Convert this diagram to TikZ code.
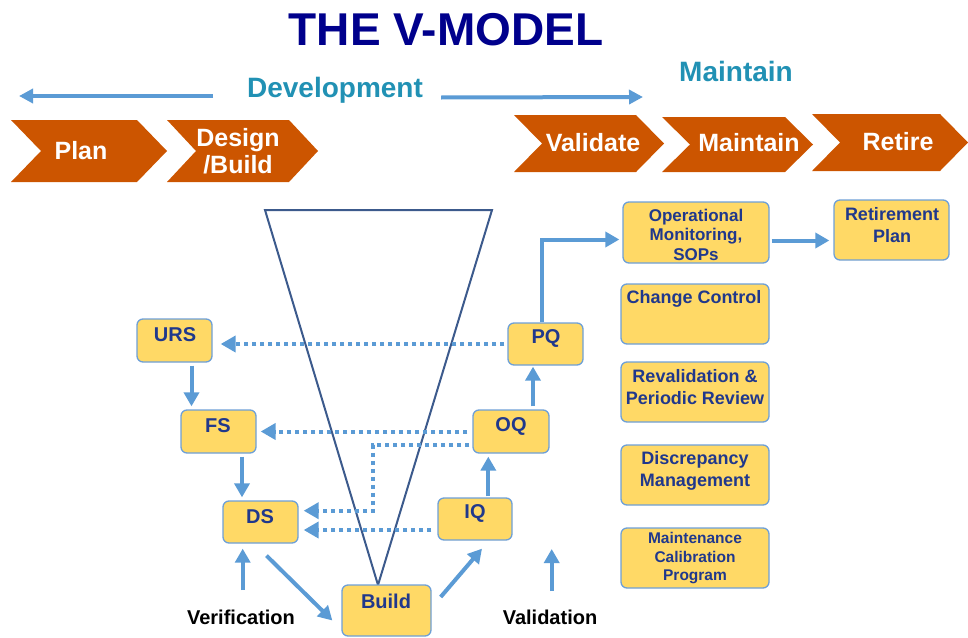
\documentclass[tikz,border=0pt]{standalone}
\usepackage{fontspec}
\setmainfont{Liberation Sans}
\usetikzlibrary{arrows.meta,calc}
\definecolor{titleblue}{RGB}{0,0,140}
\definecolor{teal}{RGB}{33,145,180}
\definecolor{chevor}{RGB}{204,85,0}
\definecolor{arrowblue}{RGB}{91,155,213}
\definecolor{boxfill}{RGB}{255,217,102}
\definecolor{boxline}{RGB}{110,160,215}
\definecolor{boxtext}{RGB}{32,56,140}
\definecolor{vline}{RGB}{60,90,140}
\begin{document}
\begin{tikzpicture}[x=1pt,y=-1pt,
  box/.style={draw=boxline, line width=1.3pt, fill=boxfill, rounded corners=6pt, inner sep=0pt},
  btxt/.style={text=boxtext, font=\bfseries\fontsize{20}{23}\selectfont, align=center, inner sep=0pt},
  rtxt/.style={text=boxtext, font=\bfseries\fontsize{18}{22}\selectfont, align=center, inner sep=0pt},
  arr/.style={draw=arrowblue, line width=4pt, -{Triangle[length=14pt,width=15pt]}},
  darr/.style={draw=arrowblue, line width=4pt, dash pattern=on 4pt off 4pt, -{Triangle[length=15pt,width=16pt]}},
  tarr/.style={draw=arrowblue, line width=4pt, -{Triangle[length=14pt,width=14pt]}},
  chev/.style={fill=chevor},
  ctxt/.style={text=white, font=\bfseries\fontsize{25}{27}\selectfont, align=center, inner sep=0pt},
  vtri/.style={draw=vline, line width=2pt, line join=miter},
  ltxt/.style={text=black, font=\bfseries\fontsize{20}{24}\selectfont, inner sep=0pt}
]
\useasboundingbox (0,0) rectangle (968,637);

% title
\node[text=titleblue, font=\bfseries\fontsize{46}{50}\selectfont, inner sep=0pt] (title) at (446,30) {THE V-MODEL};

% development / maintain headers
\node[text=teal, font=\bfseries\fontsize{28}{32}\selectfont, inner sep=0pt] (dev) at (335,90) {Development};
\node[text=teal, font=\bfseries\fontsize{28}{32}\selectfont, inner sep=0pt] (mainthdr) at (736,71) {Maintain};
\coordinate (dl0) at (213,96);
\coordinate (dl1) at (19,96);
\coordinate (dr0) at (441,97.5);
\coordinate (dr1) at (643,97);
\draw[tarr] (dl0) -- (dl1);
\draw[tarr] (dr0) -- (dr1);

% chevrons
\fill[chev] (11,120) -- (137,120) -- (167,151) -- (137,182) -- (11,182) -- (41,151) -- cycle;
\fill[chev] (167,120) -- (289,120) -- (318,151) -- (289,182) -- (167,182) -- (196,151) -- cycle;
\fill[chev] (514,115) -- (636,115) -- (664,143.5) -- (636,172) -- (514,172) -- (542,143.5) -- cycle;
\fill[chev] (662,117) -- (785,117) -- (813,144.5) -- (785,172) -- (662,172) -- (690,144.5) -- cycle;
\fill[chev] (812,114) -- (940,114) -- (968,142.5) -- (940,171) -- (812,171) -- (840,142.5) -- cycle;
\node[ctxt] (cplan) at (81,151) {Plan};
\node[ctxt] (cdesign) at (238,151) {Design\\/Build};
\node[ctxt] (cval) at (593,143) {Validate};
\node[ctxt] (cmaint) at (749,143) {Maintain};
\node[ctxt] (cret) at (898,142) {Retire};

% V triangle
\coordinate (vl) at (265,210);
\coordinate (vr) at (492,210);
\coordinate (vb) at (378,585);
\draw[vtri] (vl) -- (vr) -- (vb) -- cycle;

% boxes
\node[box, minimum width=75pt, minimum height=43pt] (URS) at (174.5,340.5) {};
\node[box, minimum width=75pt, minimum height=43pt] (FS) at (218.5,431.5) {};
\node[box, minimum width=75pt, minimum height=42pt] (DS) at (260.5,522) {};
\node[box, minimum width=89pt, minimum height=51pt] (Build) at (386.5,610.5) {};
\node[box, minimum width=74pt, minimum height=42pt] (IQ) at (475,519) {};
\node[box, minimum width=76pt, minimum height=43pt] (OQ) at (511,431.5) {};
\node[box, minimum width=75pt, minimum height=42pt] (PQ) at (545.5,344) {};
\node[box, minimum width=146pt, minimum height=61pt] (OpMon) at (696,232.5) {};
\node[box, minimum width=115pt, minimum height=60pt] (Ret) at (891.5,230) {};
\node[box, minimum width=148pt, minimum height=60pt] (CC) at (695,314) {};
\node[box, minimum width=148pt, minimum height=60pt] (Reval) at (695,392) {};
\node[box, minimum width=148pt, minimum height=60pt] (Disc) at (695,475) {};
\node[box, minimum width=148pt, minimum height=60pt] (Maint) at (695,558) {};

% box texts
\node[btxt] (tURS) at (175,335) {URS};
\node[btxt] (tFS) at (218,426) {FS};
\node[btxt] (tDS) at (260,517) {DS};
\node[btxt] (tBuild) at (386,601) {Build};
\node[btxt] (tIQ) at (475,513) {IQ};
\node[btxt] (tOQ) at (511,426) {OQ};
\node[btxt] (tPQ) at (546,338) {PQ};
\node[text=boxtext, font=\bfseries\fontsize{17}{19.5}\selectfont, align=center, inner sep=0pt] (tOpMon) at (696,234.5) {Operational\\Monitoring,\\SOPs};
\node[rtxt] (tRet) at (892,225) {Retirement\\Plan};
\node[rtxt] (tCC) at (694,299) {Change Control};
\node[rtxt] (tReval) at (695,387) {Revalidation \&\\Periodic Review};
\node[rtxt] (tDisc) at (695,471) {Discrepancy\\Management};
\node[text=boxtext, font=\bfseries\fontsize{15.5}{18.5}\selectfont, align=center, inner sep=0pt] (tMaint) at (695,558.5) {Maintenance\\Calibration\\Program};

% bottom labels
\node[ltxt] (verif) at (241,617) {Verification};
\node[ltxt] (valid) at (550,617) {Validation};

% solid connectors
\draw[arr, shorten <=3pt, shorten >=3pt] ([xshift=17pt]URS.south) -- ([xshift=17pt]URS.south |- FS.north);
\draw[arr, shorten <=3pt, shorten >=3pt] ([xshift=23.5pt]FS.south) -- ([xshift=23.5pt]FS.south |- DS.north);
\coordinate (vfoot) at (242.7,590);
\draw[arr, shorten >=5pt] (vfoot) -- (vfoot |- DS.south);
\draw[arr] ($(DS.south)+(6,12)$) -- ($(Build.west)+(-9,10)$);
\draw[arr] ($(Build.east)+(9,-13.5)$) -- ($(IQ.south)+(7,8)$);
\draw[arr, shorten <=1pt, shorten >=3pt] ([xshift=13.3pt]IQ.north) -- ([xshift=13.3pt]IQ.north |- OQ.south);
\draw[arr, shorten <=3pt, shorten >=1pt] ([xshift=22pt]OQ.north) -- ([xshift=22pt]OQ.north |- PQ.south);
\coordinate (opin) at ($(OpMon.west)+(0,7)$);
\draw[arr, shorten >=3pt] ([xshift=-3.5pt]PQ.north) |- (opin);
\coordinate (opout) at ($(OpMon.east)+(2,8)$);
\draw[arr, shorten >=4pt] (opout) -- (opout -| Ret.west);
\coordinate (vafoot) at (551.7,591);
\coordinate (vatop) at (551.7,549);
\draw[arr] (vafoot) -- (vatop);

% dotted connectors
\draw[darr, shorten <=3pt, shorten >=8pt] (PQ.west) -- (PQ.west -| URS.east);
\draw[darr, shorten <=5pt, shorten >=4pt] (OQ.west) -- (FS.east);
\coordinate (oqout) at ($(OQ.west)+(-3,13.5)$);
\coordinate (elb) at (373.3,510.7);
\draw[darr, shorten >=5pt] (oqout) -| (elb) -- (elb -| DS.east);
\coordinate (iqout) at ($(IQ.west)+(-6,11)$);
\draw[darr, shorten >=5pt] (iqout) -- (iqout -| DS.east);
\end{tikzpicture}
\end{document}
